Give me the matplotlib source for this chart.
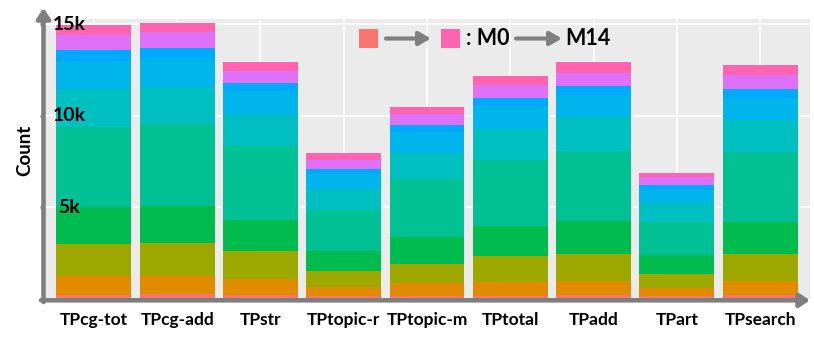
import matplotlib
matplotlib.use("Agg")
import matplotlib.pyplot as plt
import matplotlib.transforms as mtrans
import numpy as np
from matplotlib.patches import Rectangle, FancyArrowPatch

# ---------------- data ----------------
categories = ["TPcg-tot", "TPcg-add", "TPstr", "TPtopic-r", "TPtopic-m",
              "TPtotal", "TPadd", "TPart", "TPsearch"]

# stacked layers, bottom (M0) to top (M14)
layer_salmon = [190, 246, 173, 137, 137, 137, 173, 137, 173]
layer_orange = [1040, 986, 913, 475, 694, 767, 803, 438, 803]
layer_olive = [1770, 1825, 1515, 894, 1059, 1424, 1460, 785, 1460]
layer_green = [2008, 2026, 1698, 1113, 1460, 1643, 1789, 1022, 1752]
layer_teal = [4380, 4454, 4052, 2245, 3194, 3632, 3870, 1825, 3851]
layer_cyan = [2063, 2063, 1716, 1113, 1442, 1680, 1825, 1040, 1734]
layer_lightblue = [1551, 1552, 1296, 821, 1113, 1241, 1223, 675, 1223]
layer_blue = [584, 584, 438, 310, 383, 438, 475, 274, 475]
layer_purple = [858, 840, 657, 475, 621, 730, 730, 456, 749]
layer_pink = [529, 511, 475, 401, 401, 511, 602, 201, 566]

layers = [layer_salmon, layer_orange, layer_olive, layer_green, layer_teal,
          layer_cyan, layer_lightblue, layer_blue, layer_purple, layer_pink]
colors = ["#F8766D", "#E08B00", "#9CA700", "#00BB4E", "#00C094",
          "#00C0C2", "#00B5EC", "#00A9FF", "#DF70F8", "#FF64AE"]

ytick_vals = [5000, 10000, 15000]
ytick_labels = ["5k", "10k", "15k"]

FONT = ["Lato", "DejaVu Sans"]
plt.rcParams["font.family"] = FONT

W, H = 814, 344
fig = plt.figure(figsize=(W / 100, H / 100), dpi=100)
fig.patch.set_facecolor("white")

left_px, right_px, top_px, bottom_px = 44, 810, 19, 298.5
ax = fig.add_axes([left_px / W, 1 - bottom_px / H,
                   (right_px - left_px) / W, (bottom_px - top_px) / H])
ax.set_facecolor("#EBEBEB")

x = np.arange(len(categories))
bottom = np.zeros(len(categories))
for vals, col in zip(layers, colors):
    vals = np.array(vals, dtype=float)
    ax.bar(x, vals, bottom=bottom, width=0.9, color=col, linewidth=0, zorder=3)
    bottom += vals

ax.set_xlim(-0.6, len(categories) - 0.4)
ax.set_ylim(0, 15300)

ax.set_yticks(ytick_vals)
ax.set_yticklabels([])
ax.set_xticks(x)
ax.set_xticklabels(categories, fontsize=12.5, fontweight="bold")
ax.tick_params(axis="x", length=0, pad=10)
ax.tick_params(axis="y", length=3, width=2, color="#808080", direction="out")
ax.grid(True, color="white", linewidth=1.1, zorder=0)
for s in ax.spines.values():
    s.set_visible(False)

# y tick labels drawn inside the panel (x in figure pixels, y in data)
ytrans = mtrans.blended_transform_factory(mtrans.IdentityTransform(), ax.transData)
for v, lab in zip(ytick_vals, ytick_labels):
    ax.text(69, v, lab, transform=ytrans, ha="center", va="center",
            fontsize=14, fontweight="bold", zorder=6)

fig.text(25 / W, 1 - 150 / H, "Count", rotation=90, ha="center", va="center",
         fontsize=13.5, fontweight="bold")


def fp(xp, yp):
    return xp / W, 1 - yp / H


gray = "#7F7F7F"
# x axis arrow
fig.add_artist(FancyArrowPatch(
    fp(41, 300.3), fp(810, 300.3), transform=fig.transFigure,
    arrowstyle="-|>,head_length=6,head_width=4", color=gray, linewidth=3.3,
    mutation_scale=1, shrinkA=0, shrinkB=0, zorder=10))
# y axis arrow
fig.add_artist(FancyArrowPatch(
    fp(43.5, 302), fp(43.5, 8), transform=fig.transFigure,
    arrowstyle="-|>,head_length=6,head_width=4", color=gray, linewidth=3.3,
    mutation_scale=1, shrinkA=0, shrinkB=0, zorder=10))


# custom legend annotation
def square(x0, y0, size, col):
    fx, fy = fp(x0, y0 + size)
    fig.add_artist(Rectangle((fx, fy), size / W, size / H, transform=fig.transFigure,
                             facecolor=col, edgecolor="none", zorder=10))


square(359, 28.5, 19, colors[0])
square(441, 28.5, 19, colors[-1])
for x0, x1 in [(386, 431), (516, 562)]:
    fig.add_artist(FancyArrowPatch(
        fp(x0, 38.5), fp(x1, 38.5), transform=fig.transFigure,
        arrowstyle="-|>,head_length=7,head_width=4", color=gray, linewidth=3,
        mutation_scale=1, shrinkA=0, shrinkB=0, zorder=10))
tx, ty = fp(466, 38.5)
fig.text(tx, ty, ": M0", ha="left", va="center", fontsize=15.5, fontweight="bold", zorder=11)
tx, ty = fp(565, 38.5)
fig.text(tx, ty, "M14", ha="left", va="center", fontsize=15.5, fontweight="bold", zorder=11)

fig.savefig("out.png", dpi=100, facecolor="white")
